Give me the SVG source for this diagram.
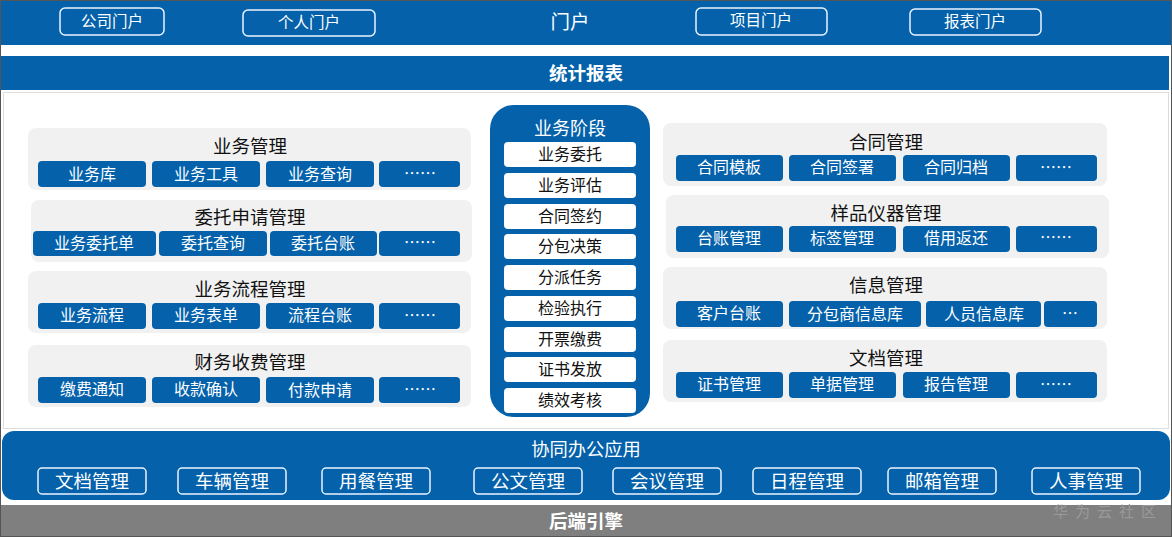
<svg xmlns="http://www.w3.org/2000/svg" width="1172" height="537" viewBox="0 0 1172 537">
<style>
text{font-family:"Noto Sans CJK SC","Liberation Sans",sans-serif;text-anchor:middle;dominant-baseline:central}
.blue{fill:#0461AA}
.portal{fill:none;stroke:#EAF4FF;stroke-width:1.5}
.pt{fill:#fff;font-size:15.5px}
.wt{fill:#fff;font-size:16px}
.grp{fill:#F1F1F1}
.gt{fill:#111;font-size:18.5px}
.btn{fill:#0461AA}
.stage{fill:#fff}
.st{fill:#111;font-size:16px}
.ob{fill:none;stroke:#EAF4FF;stroke-width:1.5}
.ot{fill:#fff;font-size:18.5px}
</style>
<rect x="0" y="0" width="1172" height="537" fill="#fff"/>
<g id="portal">
<rect class="blue" x="0" y="0" width="1172" height="45"/>
<rect class="portal" x="60" y="8" width="104" height="27" rx="5"/>
<text class="pt" x="112" y="20">公司门户</text>
<rect class="portal" x="243" y="10" width="132" height="26" rx="5"/>
<text class="pt" x="309" y="21">个人门户</text>
<text x="570" y="20" fill="#fff" font-size="19.5">门户</text>
<rect class="portal" x="696" y="8" width="131" height="27" rx="5"/>
<text class="pt" x="761" y="19">项目门户</text>
<rect class="portal" x="910" y="9" width="131" height="26" rx="5"/>
<text class="pt" x="975" y="20">报表门户</text>
</g>
<g id="stats">
<rect class="blue" x="0" y="56" width="1169" height="34"/>
<text x="586" y="72" fill="#fff" font-size="18.5" font-weight="bold">统计报表</text>
</g>
<rect x="3.5" y="92.5" width="1165" height="336" fill="none" stroke="#bbb" stroke-dasharray="1 1"/>
<g id="biz-mgmt">
<rect class="grp" x="28" y="128" width="443" height="62" rx="8"/>
<text class="gt" x="250" y="145">业务管理</text>
<rect class="btn" x="38" y="161" width="108" height="26" rx="4"/><text class="wt" x="92" y="173">业务库</text>
<rect class="btn" x="152" y="161" width="108" height="26" rx="4"/><text class="wt" x="206" y="173">业务工具</text>
<rect class="btn" x="266" y="161" width="108" height="26" rx="4"/><text class="wt" x="320" y="173">业务查询</text>
<rect class="btn" x="379" y="161" width="81" height="26" rx="4"/><text class="wt" x="420" y="172">……</text>
</g>
<g id="entrust-mgmt">
<rect class="grp" x="31" y="200" width="441" height="62" rx="8"/>
<text class="gt" x="250" y="216">委托申请管理</text>
<rect class="btn" x="33" y="231" width="123" height="25" rx="4"/><text class="wt" x="94" y="242">业务委托单</text>
<rect class="btn" x="159" y="231" width="108" height="25" rx="4"/><text class="wt" x="213" y="242">委托查询</text>
<rect class="btn" x="270" y="231" width="107" height="25" rx="4"/><text class="wt" x="323" y="242">委托台账</text>
<rect class="btn" x="379" y="231" width="81" height="25" rx="4"/><text class="wt" x="420" y="241">……</text>
</g>
<g id="flow-mgmt">
<rect class="grp" x="28" y="271" width="443" height="62" rx="8"/>
<text class="gt" x="250" y="288">业务流程管理</text>
<rect class="btn" x="38" y="303" width="108" height="26" rx="4"/><text class="wt" x="92" y="314">业务流程</text>
<rect class="btn" x="152" y="303" width="108" height="26" rx="4"/><text class="wt" x="206" y="314">业务表单</text>
<rect class="btn" x="266" y="303" width="108" height="26" rx="4"/><text class="wt" x="320" y="314">流程台账</text>
<rect class="btn" x="379" y="303" width="81" height="26" rx="4"/><text class="wt" x="420" y="314">……</text>
</g>
<g id="fee-mgmt">
<rect class="grp" x="28" y="345" width="443" height="62" rx="8"/>
<text class="gt" x="250" y="361">财务收费管理</text>
<rect class="btn" x="38" y="377" width="108" height="26" rx="4"/><text class="wt" x="92" y="388">缴费通知</text>
<rect class="btn" x="152" y="377" width="108" height="26" rx="4"/><text class="wt" x="206" y="388">收款确认</text>
<rect class="btn" x="266" y="377" width="108" height="26" rx="4"/><text class="wt" x="320" y="389">付款申请</text>
<rect class="btn" x="379" y="377" width="81" height="26" rx="4"/><text class="wt" x="420" y="388">……</text>
</g>
<g id="stages">
<rect class="blue" x="490" y="105" width="160" height="312" rx="24"/>
<text x="570" y="127" fill="#fff" font-size="18">业务阶段</text>
<rect class="stage" x="504" y="142" width="132" height="25" rx="4"/><text class="st" x="570" y="153">业务委托</text>
<rect class="stage" x="504" y="173" width="132" height="25" rx="4"/><text class="st" x="570" y="184">业务评估</text>
<rect class="stage" x="504" y="204" width="132" height="25" rx="4"/><text class="st" x="570" y="215">合同签约</text>
<rect class="stage" x="504" y="234" width="132" height="25" rx="4"/><text class="st" x="570" y="245">分包决策</text>
<rect class="stage" x="504" y="265" width="132" height="25" rx="4"/><text class="st" x="570" y="276">分派任务</text>
<rect class="stage" x="504" y="296" width="132" height="25" rx="4"/><text class="st" x="570" y="307">检验执行</text>
<rect class="stage" x="504" y="327" width="132" height="25" rx="4"/><text class="st" x="570" y="338">开票缴费</text>
<rect class="stage" x="504" y="357" width="132" height="25" rx="4"/><text class="st" x="570" y="368">证书发放</text>
<rect class="stage" x="504" y="388" width="132" height="25" rx="4"/><text class="st" x="570" y="399">绩效考核</text>
</g>
<g id="contract-mgmt">
<rect class="grp" x="663" y="123" width="444" height="63" rx="8"/>
<text class="gt" x="886" y="141">合同管理</text>
<rect class="btn" x="676" y="155" width="107" height="26" rx="4"/><text class="wt" x="729" y="166">合同模板</text>
<rect class="btn" x="789" y="155" width="107" height="26" rx="4"/><text class="wt" x="842" y="166">合同签署</text>
<rect class="btn" x="903" y="155" width="107" height="26" rx="4"/><text class="wt" x="956" y="166">合同归档</text>
<rect class="btn" x="1016" y="155" width="81" height="26" rx="4"/><text class="wt" x="1056" y="166">……</text>
</g>
<g id="sample-mgmt">
<rect class="grp" x="666" y="195" width="443" height="63" rx="8"/>
<text class="gt" x="886" y="212">样品仪器管理</text>
<rect class="btn" x="676" y="226" width="107" height="26" rx="4"/><text class="wt" x="729" y="237">台账管理</text>
<rect class="btn" x="789" y="226" width="107" height="26" rx="4"/><text class="wt" x="842" y="237">标签管理</text>
<rect class="btn" x="903" y="226" width="107" height="26" rx="4"/><text class="wt" x="956" y="237">借用返还</text>
<rect class="btn" x="1016" y="226" width="81" height="26" rx="4"/><text class="wt" x="1056" y="236">……</text>
</g>
<g id="info-mgmt">
<rect class="grp" x="663" y="267" width="444" height="62" rx="8"/>
<text class="gt" x="886" y="284">信息管理</text>
<rect class="btn" x="676" y="301" width="107" height="26" rx="4"/><text class="wt" x="729" y="312">客户台账</text>
<rect class="btn" x="789" y="301" width="132" height="26" rx="4"/><text class="wt" x="855" y="313">分包商信息库</text>
<rect class="btn" x="926" y="301" width="115" height="26" rx="4"/><text class="wt" x="984" y="313">人员信息库</text>
<rect class="btn" x="1044" y="301" width="53" height="26" rx="4"/><text class="wt" x="1070" y="312">…</text>
</g>
<g id="doc-mgmt">
<rect class="grp" x="663" y="340" width="444" height="62" rx="8"/>
<text class="gt" x="886" y="357">文档管理</text>
<rect class="btn" x="676" y="372" width="107" height="26" rx="4"/><text class="wt" x="729" y="383">证书管理</text>
<rect class="btn" x="789" y="372" width="107" height="26" rx="4"/><text class="wt" x="842" y="383">单据管理</text>
<rect class="btn" x="903" y="372" width="107" height="26" rx="4"/><text class="wt" x="956" y="383">报告管理</text>
<rect class="btn" x="1016" y="372" width="81" height="26" rx="4"/><text class="wt" x="1056" y="383">……</text>
</g>
<g id="office">
<rect class="blue" x="2" y="431" width="1168" height="69" rx="12"/>
<text x="586" y="448" fill="#fff" font-size="18.3">协同办公应用</text>
<rect class="ob" x="38" y="468" width="108" height="26" rx="4"/><text class="ot" x="92" y="480">文档管理</text>
<rect class="ob" x="178" y="468" width="108" height="26" rx="4"/><text class="ot" x="232" y="480">车辆管理</text>
<rect class="ob" x="322" y="468" width="108" height="26" rx="4"/><text class="ot" x="376" y="480">用餐管理</text>
<rect class="ob" x="474" y="468" width="108" height="26" rx="4"/><text class="ot" x="528" y="480">公文管理</text>
<rect class="ob" x="613" y="468" width="108" height="26" rx="4"/><text class="ot" x="667" y="480">会议管理</text>
<rect class="ob" x="753" y="468" width="108" height="26" rx="4"/><text class="ot" x="807" y="480">日程管理</text>
<rect class="ob" x="888" y="468" width="108" height="26" rx="4"/><text class="ot" x="942" y="480">邮箱管理</text>
<rect class="ob" x="1032" y="468" width="108" height="26" rx="4"/><text class="ot" x="1086" y="480">人事管理</text>
</g>
<g id="backend">
<rect x="0" y="505" width="1172" height="32" fill="#7F7F7F"/>
<text x="586" y="520" fill="#fff" font-size="18.5" font-weight="bold">后端引擎</text>
<text x="1108" y="510" fill="#9a9a9a" font-size="15" letter-spacing="7">华为云社区</text>
</g>
<rect x="0.5" y="0.5" width="1171" height="536" fill="none" stroke="#555" stroke-width="1"/>
</svg>
